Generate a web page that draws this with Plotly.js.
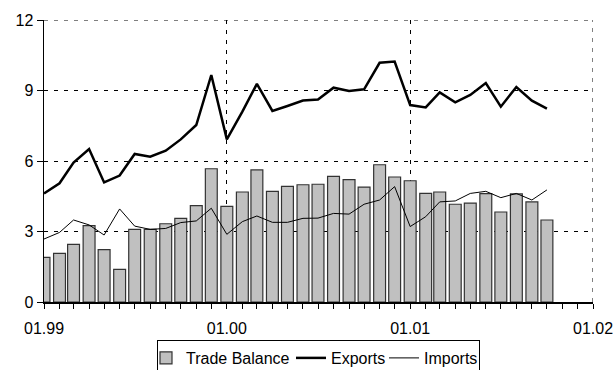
<!DOCTYPE html>
<html>
<head>
<meta charset="utf-8">
<script src="https://cdn.plot.ly/plotly-3.0.1.min.js"></script>
<style>html,body{margin:0;padding:0;background:#fff;}#chart{width:616px;height:370px;}</style>
</head>
<body>
<div id="chart"></div>
<script>
const months = [
  "1999-01-01","1999-02-01","1999-03-01","1999-04-01","1999-05-01","1999-06-01",
  "1999-07-01","1999-08-01","1999-09-01","1999-10-01","1999-11-01","1999-12-01",
  "2000-01-01","2000-02-01","2000-03-01","2000-04-01","2000-05-01","2000-06-01",
  "2000-07-01","2000-08-01","2000-09-01","2000-10-01","2000-11-01","2000-12-01",
  "2001-01-01","2001-02-01","2001-03-01","2001-04-01","2001-05-01","2001-06-01",
  "2001-07-01","2001-08-01","2001-09-01","2001-10-01"
];
const tradeBalance = [
  1.90, 2.07, 2.45, 3.25, 2.23, 1.39, 3.09, 3.09, 3.33, 3.56, 4.10, 5.67,
  4.07, 4.68, 5.62, 4.71, 4.92, 4.99, 5.01, 5.35, 5.21, 4.89, 5.84, 5.32,
  5.16, 4.62, 4.68, 4.16, 4.21, 4.61, 3.83, 4.60, 4.26, 3.49
];
const exportsVals = [
  4.62, 5.05, 5.93, 6.51, 5.09, 5.38, 6.30, 6.18, 6.44, 6.92, 7.53, 9.66,
  6.92, 8.10, 9.28, 8.13, 8.34, 8.57, 8.62, 9.12, 8.98, 9.05, 10.18, 10.23,
  8.38, 8.28, 8.92, 8.50, 8.81, 9.32, 8.31, 9.15, 8.57, 8.23
];
const importsVals = [
  2.68, 2.96, 3.49, 3.28, 2.85, 3.96, 3.23, 3.09, 3.13, 3.38, 3.45, 3.99,
  2.88, 3.42, 3.66, 3.39, 3.39, 3.56, 3.57, 3.77, 3.74, 4.16, 4.34, 4.91,
  3.21, 3.63, 4.26, 4.30, 4.62, 4.71, 4.44, 4.62, 4.34, 4.77
];
const xTickVals = ["1999-01-01","2000-01-01","2001-01-01","2002-01-01"];
const xTickText = ["01.99","01.00","01.01","01.02"];
const yTickVals = [0, 3, 6, 9, 12];

const FONT = "Liberation Sans, Arial, sans-serif";
const monthMs = 30.44 * 24 * 3600 * 1000;
const xEnd = xTickVals[xTickVals.length - 1];
const yTop = yTickVals[yTickVals.length - 1];

const data = [
  {
    type: "bar", name: "Trade Balance", x: months, y: tradeBalance,
    width: 0.78 * monthMs, legendwidth: 112,
    marker: {color: "#c0c0c0", line: {color: "#333333", width: 1.2}}
  },
  {
    type: "scatter", mode: "lines", name: "Exports", x: months, y: exportsVals,
    legendwidth: 60,
    line: {color: "#000000", width: 2.5}
  },
  {
    type: "scatter", mode: "lines", name: "Imports", x: months, y: importsVals,
    legendwidth: 50,
    line: {color: "#000000", width: 1}
  }
];

const layout = {
  width: 616, height: 370,
  margin: {l: 44, r: 23, t: 20, b: 68, pad: 0},
  paper_bgcolor: "#ffffff", plot_bgcolor: "#ffffff",
  font: {family: FONT, size: 16, color: "#000000"},
  showlegend: true,
  legend: {
    orientation: "h", xref: "paper", x: 0.5, xanchor: "center",
    yref: "container", y: 0.0811, yanchor: "top",
    bordercolor: "#000000", borderwidth: 1, bgcolor: "#ffffff",
    font: {family: FONT, size: 16, color: "#000000"},
    itemwidth: 30, tracegroupgap: 0, indentation: -12
  },
  xaxis: {
    type: "date",
    range: [xTickVals[0], xEnd],
    tickmode: "array", tickvals: xTickVals, ticktext: xTickText,
    ticks: "outside", ticklen: 5, tickwidth: 1, tickcolor: "#000000",
    showline: true, linecolor: "#000000", linewidth: 1.5,
    showgrid: true, gridcolor: "#000000", gridwidth: 1, griddash: "4px,6px",
    zeroline: false,
    minor: {dtick: "M1", tick0: "1999-01-01", ticks: "outside", ticklen: 5, tickwidth: 1, tickcolor: "#000000", showgrid: false},
    tickfont: {family: FONT, size: 16, color: "#000000"},
    ticklabelstandoff: 6
  },
  yaxis: {
    range: [0, yTop],
    tickmode: "array", tickvals: yTickVals,
    ticks: "outside", ticklen: 6, tickwidth: 1, tickcolor: "#000000",
    showline: true, linecolor: "#000000", linewidth: 1.5,
    showgrid: true, gridcolor: "#000000", gridwidth: 1, griddash: "4px,6px",
    zeroline: false,
    tickfont: {family: FONT, size: 16, color: "#000000"}
  },
  shapes: [
    {type: "line", layer: "below", xref: "paper", x0: 0, x1: 1, yref: "y", y0: yTop, y1: yTop,
     line: {color: "#000000", width: 1, dash: "4px,6px"}},
    {type: "line", layer: "below", xref: "x", x0: xEnd, x1: xEnd, yref: "paper", y0: 0, y1: 1,
     line: {color: "#000000", width: 1, dash: "4px,6px"}}
  ],
  bargap: 0.2
};

Plotly.newPlot("chart", data, layout, {displayModeBar: false, staticPlot: true});
</script>
</body>
</html>
